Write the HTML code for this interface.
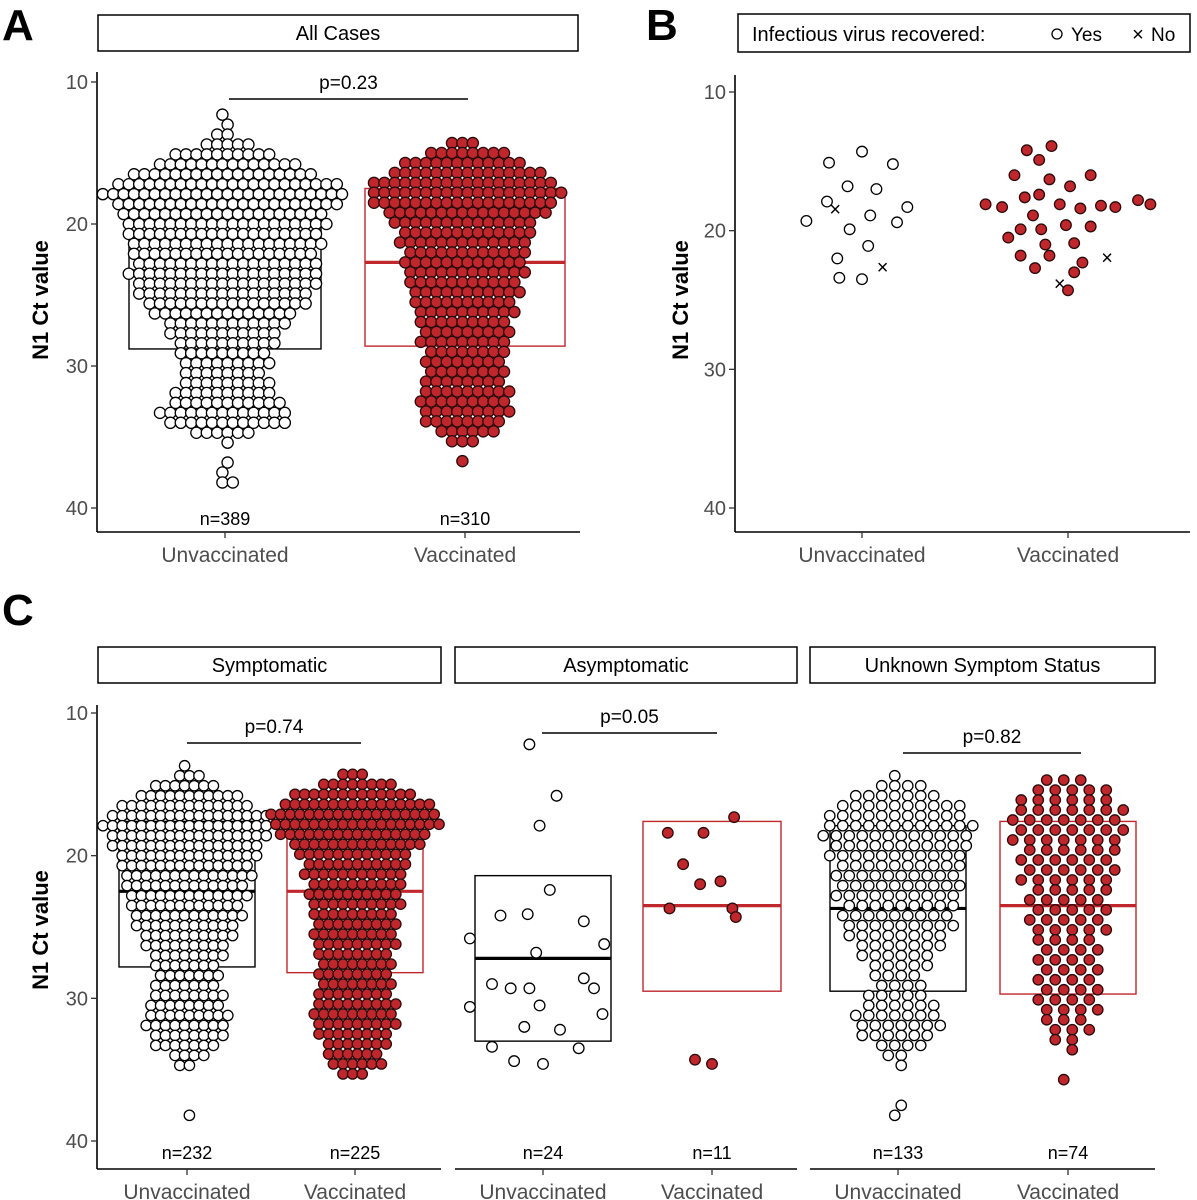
<!DOCTYPE html>
<html><head><meta charset="utf-8"><style>
body{margin:0;background:#fff}
svg{display:block;font-family:"Liberation Sans",Arial,sans-serif}
</style></head><body>
<svg id="s" width="1197" height="1200" viewBox="0 0 1197 1200" xmlns="http://www.w3.org/2000/svg"></svg>
<script>
// ---- data ----
const categories = ["Unvaccinated","Vaccinated"];
const yTicks = [10,20,30,40];
// Panel A beeswarm row counts (rows of 0.7 Ct)
const aUnvStart = 12.3;
const aUnvCounts = [1,1,2,5,10,14,18,22,24,22,20,20,19,19,18,18,19,18,17,16,14,12,11,10,9,9,8,9,10,11,13,12,6,1,0,1,1,2];
const aVacStart = 14.3;
const aVacCounts = [3,8,12,15,18,19,18,16,14,13,13,12,12,12,11,11,10,10,9,9,9,8,8,8,8,9,9,9,8,6,3,0,1];
const aBoxUnv = [17.6,23.3,28.8];
const aBoxVac = [17.5,22.7,28.6];
const aN = ["n=389","n=310"];
const aP = "p=0.23";
// Panel B (Ct values and jitter offsets in category units)
const bUnvYesCt = [15.1,14.3,15.2,16.8,17.0,17.9,18.9,18.3,19.3,19.9,19.4,21.1,22.0,23.4,23.5];
const bUnvYesJit = [-0.16,0,0.15,-0.07,0.07,-0.17,0.04,0.22,-0.27,-0.06,0.17,0.03,-0.12,-0.11,0];
const bUnvNoCt = [18.5,22.7];
const bUnvNoJit = [-0.13,0.1];
const bVacYesCt = [13.9,14.2,14.9,16.0,16.3,16.8,16.0,18.1,18.3,17.6,17.4,18.1,18.4,18.2,18.3,17.8,18.1,18.9,19.9,19.9,19.6,19.7,20.5,21.0,20.9,21.8,21.8,22.3,22.7,23.0,24.3];
const bVacYesJit = [-0.08,-0.2,-0.14,-0.26,-0.09,0.01,0.11,-0.40,-0.32,-0.21,-0.14,-0.04,0.06,0.16,0.23,0.34,0.40,-0.17,-0.23,-0.13,-0.01,0.11,-0.29,-0.11,0.03,-0.23,-0.09,0.07,-0.16,0.03,0];
const bVacNoCt = [23.9,22.0];
const bVacNoJit = [-0.04,0.19];
// Panel C
const cFacets = ["Symptomatic","Asymptomatic","Unknown Symptom Status"];
const cSymUnvStart = 13.7;
const cSymUnvCounts = [1,3,7,11,14,17,18,17,16,15,14,14,13,13,12,12,11,10,9,8,7,7,7,8,8,9,9,8,7,4,2,0,0,0,0,1];
const cSymVacStart = 14.3;
const cSymVacCounts = [3,8,13,16,18,18,16,14,12,11,11,10,10,10,9,9,9,9,8,8,8,8,8,9,9,9,8,7,6,6,3];
const cAsyUnvCt = [12.2,15.8,17.9,22.4,24.2,24.1,24.6,26.2,26.8,25.8,29.0,29.3,28.6,30.6,29.3,30.5,29.3,31.1,32.0,32.2,33.5,33.4,34.4,34.6];
const cAsyUnvJit = [-0.08,0.08,-0.02,0.04,-0.25,-0.09,0.24,0.36,-0.04,-0.43,-0.30,-0.19,0.24,-0.43,-0.08,-0.02,0.30,0.35,-0.11,0.10,0.21,-0.30,-0.17,0];
const cAsyVacCt = [18.4,18.4,17.3,20.6,22.0,21.8,23.7,23.7,24.3,34.3,34.6];
const cAsyVacJit = [-0.26,-0.05,0.13,-0.17,-0.07,0.05,-0.25,0.12,0.14,-0.10,0];
const cUnkUnvStart = 14.4;
const cUnkUnvCounts = [1,4,7,10,11,12,12,11,11,10,10,10,10,9,9,9,8,7,6,5,4,4,5,6,7,7,6,4,2,1,0,0,0,1,1];
const cUnkVacStart = 14.7;
const cUnkVacCounts = [3,5,6,7,7,7,7,6,6,6,6,5,5,5,5,5,4,4,4,4,4,4,4,4,3,3,2,1,0,0,1];
const cBoxes = [[17.6,22.5,27.8],[17.6,22.5,28.2],[21.4,27.2,33.0],[17.6,23.5,29.5],[17.9,23.7,29.5],[17.6,23.5,29.7]];
const cN = ["n=232","n=225","n=24","n=11","n=133","n=74"];
const cP = ["p=0.74","p=0.05","p=0.82"];

// ---- drawing ----
const NS="http://www.w3.org/2000/svg";
const svg=document.getElementById('s');
const RED="#c0272d";
function el(tag,attrs,parent,text){const e=document.createElementNS(NS,tag);for(const k in attrs)e.setAttribute(k,attrs[k]);if(text!==undefined)e.textContent=text;(parent||svg).appendChild(e);return e;}
function lin(y10,y40){return v=>y10+(v-10)*(y40-y10)/30;}

function yAxis(x,yTop,yBot,sc,name){
  const g=el('g',{});
  
  
  el('line',{x1:x,y1:yTop,x2:x,y2:yBot,stroke:'#000','stroke-width':1.6},g);
  yTicks.forEach(t=>{
    el('line',{x1:x-6,y1:sc(t),x2:x,y2:sc(t),stroke:'#333','stroke-width':1.3},g);
    const tx=el('text',{x:x-9,y:sc(t)+7,'text-anchor':'end','font-size':20,fill:'#4d4d4d'},g,t);
    
    
  });
}
function xAxis(x1,x2,y,cx,name){
  const g=el('g',{});
  
  
  el('line',{x1:x1,y1:y,x2:x2,y2:y,stroke:'#000','stroke-width':1.6},g);
  categories.forEach((c,i)=>{
    el('line',{x1:cx[i],y1:y,x2:cx[i],y2:y+6,stroke:'#333','stroke-width':1.3},g);
    const t=el('text',{x:cx[i],y:y+30,'text-anchor':'middle','font-size':21,fill:'#4d4d4d'},g,c);
    
    
  });
}
function yTitle(x,y){
  const t=el('text',{x:x,y:y,'text-anchor':'middle','font-size':22,'font-weight':'bold',transform:`rotate(-90 ${x} ${y})`},null,'N1 Ct value');
  
  
}
function strip(x1,x2,y1,y2,label){
  const r=el('rect',{x:x1,y:y1,width:x2-x1,height:y2-y1,fill:'#fff',stroke:'#000','stroke-width':1.5});
  
  
  const t=el('text',{x:(x1+x2)/2,y:(y1+y2)/2+7,'text-anchor':'middle','font-size':20},null,label);
  
  
}
function letter(x,y,l){
  const t=el('text',{x:x,y:y,'font-size':44,'font-weight':'bold'},null,l);
  
  
}
function box(cx,hw,q,sc,color,name){
  const g=el('g',{});
  
  
  el('rect',{x:cx-hw,y:sc(q[0]),width:2*hw,height:sc(q[2])-sc(q[0]),fill:'none',stroke:color,'stroke-width':1.4},g);
  el('line',{x1:cx-hw,y1:sc(q[1]),x2:cx+hw,y2:sc(q[1]),stroke:color,'stroke-width':3.2},g);
}
function pt(x,y,r,red,g){
  const c=el('circle',{cx:x,cy:y,r:r,fill:red?RED:'#fff',stroke:red?'#2a0a0a':'#000','stroke-width':1.3},g);
  
  
}
function swarm(cx,start,counts,spacing,sc,r,red,name){
  const g=el('g',{});
  
  
  counts.forEach((n,i)=>{
    const ct=start+i*0.7;
    const sh=(i%2?0.25:-0.25)*spacing;
    for(let j=0;j<n;j++) pt(cx+sh+(j-(n-1)/2)*spacing,sc(ct),r,red,g);
  });
}
function jitter(cx,band,cts,jit,sc,r,red,name){
  const g=el('g',{});
  
  
  cts.forEach((v,i)=>pt(cx+jit[i]*band,sc(v),r,red,g));
}
function crosses(cx,band,cts,jit,sc,name){
  const g=el('g',{});
  
  
  cts.forEach((v,i)=>{
    const t=el('text',{x:cx+jit[i]*band,y:sc(v)+6,'text-anchor':'middle','font-size':20},g,'×');
    
    
  });
}
function pval(x1,x2,y,label){
  const g=el('g',{});
  
  
  el('line',{x1:x1,y1:y,x2:x2,y2:y,stroke:'#000','stroke-width':1.6},g);
  el('text',{x:(x1+x2)/2,y:y-10,'text-anchor':'middle','font-size':19},g,label);
}
function nlab(x,y,l){
  const t=el('text',{x:x,y:y,'text-anchor':'middle','font-size':18},null,l);
  
  
}

// Panel A
letter(2,40,'A');
strip(98,578,15,51,'All Cases');
const scA=lin(82,508);
const aCx=[225,465];
box(aCx[0],96,aBoxUnv,scA,'#000','box-unvaccinated');
box(aCx[1],100,aBoxVac,scA,RED,'box-vaccinated');
swarm(aCx[0],aUnvStart,aUnvCounts,10.4,scA,5.6,false,'swarm-unvaccinated');
swarm(aCx[1],aVacStart,aVacCounts,10.4,scA,5.6,true,'swarm-vaccinated');
yAxis(97,72,532,scA,'y-axis-a');
xAxis(97,580,532,aCx,'x-axis-a');
yTitle(48,300);
pval(229,468,99,aP);
nlab(aCx[0],525,aN[0]);nlab(aCx[1],525,aN[1]);

// Panel B
letter(646,40,'B');
(function(){
  const r=el('rect',{x:738,y:14,width:452,height:38,fill:'#fff',stroke:'#000','stroke-width':1.5});
  
  const t=el('text',{x:752,y:41,'font-size':20},null,'Infectious virus recovered:');
  
  const c=el('circle',{cx:1057,cy:34,r:5,fill:'#fff',stroke:'#000','stroke-width':1.3});
  
  const t2=el('text',{x:1071,y:41,'font-size':19},null,'Yes');
  
  const t3=el('text',{x:1138,y:41,'text-anchor':'middle','font-size':20},null,'×');
  
  const t4=el('text',{x:1151,y:41,'font-size':19},null,'No');
  
})();
const scB=lin(92,508);
const bCx=[862,1068];
jitter(bCx[0],206,bUnvYesCt,bUnvYesJit,scB,5.3,false,'b-unvaccinated-yes');
crosses(bCx[0],206,bUnvNoCt,bUnvNoJit,scB,'b-unvaccinated-no');
jitter(bCx[1],206,bVacYesCt,bVacYesJit,scB,5.3,true,'b-vaccinated-yes');
crosses(bCx[1],206,bVacNoCt,bVacNoJit,scB,'b-vaccinated-no');
yAxis(735,75,532,scB,'y-axis-b');
xAxis(735,1190,532,bCx,'x-axis-b');
yTitle(688,300);

// Panel C
letter(2,625,'C');
const scC=lin(713,1141);
const facX=[[98,441],[455,797],[810,1155]];
const cCx=[[187,355],[543,712],[898,1068]];
cFacets.forEach((f,i)=>strip(facX[i][0],facX[i][1],647,683,f));
box(cCx[0][0],68,cBoxes[0],scC,'#000','box-sym-unvaccinated');
box(cCx[0][1],68,cBoxes[1],scC,RED,'box-sym-vaccinated');
box(cCx[1][0],68,cBoxes[2],scC,'#000','box-asym-unvaccinated');
box(cCx[1][1],69,cBoxes[3],scC,RED,'box-asym-vaccinated');
box(cCx[2][0],68,cBoxes[4],scC,'#000','box-unknown-unvaccinated');
box(cCx[2][1],68,cBoxes[5],scC,RED,'box-unknown-vaccinated');
swarm(cCx[0][0],cSymUnvStart,cSymUnvCounts,9.6,scC,5.2,false,'swarm-sym-unvaccinated');
swarm(cCx[0][1],cSymVacStart,cSymVacCounts,9.6,scC,5.2,true,'swarm-sym-vaccinated');
jitter(cCx[1][0],170,cAsyUnvCt,cAsyUnvJit,scC,5.3,false,'asym-unvaccinated');
jitter(cCx[1][1],170,cAsyVacCt,cAsyVacJit,scC,5.3,true,'asym-vaccinated');
swarm(cCx[2][0],cUnkUnvStart,cUnkUnvCounts,13,scC,5.2,false,'swarm-unknown-unvaccinated');
swarm(cCx[2][1],cUnkVacStart,cUnkVacCounts,17,scC,5.2,true,'swarm-unknown-vaccinated');
yAxis(97,705,1169,scC,'y-axis-c');
facX.forEach((fx,i)=>xAxis(i===0?97:fx[0],fx[1],1169,cCx[i],'x-axis-c'));
yTitle(48,930);
pval(187,361,743,cP[0]);
pval(542,717,733,cP[1]);
pval(903,1081,753,cP[2]);
cN.forEach((n,i)=>nlab(cCx[Math.floor(i/2)][i%2],1159,n));
</script>
</body></html>
